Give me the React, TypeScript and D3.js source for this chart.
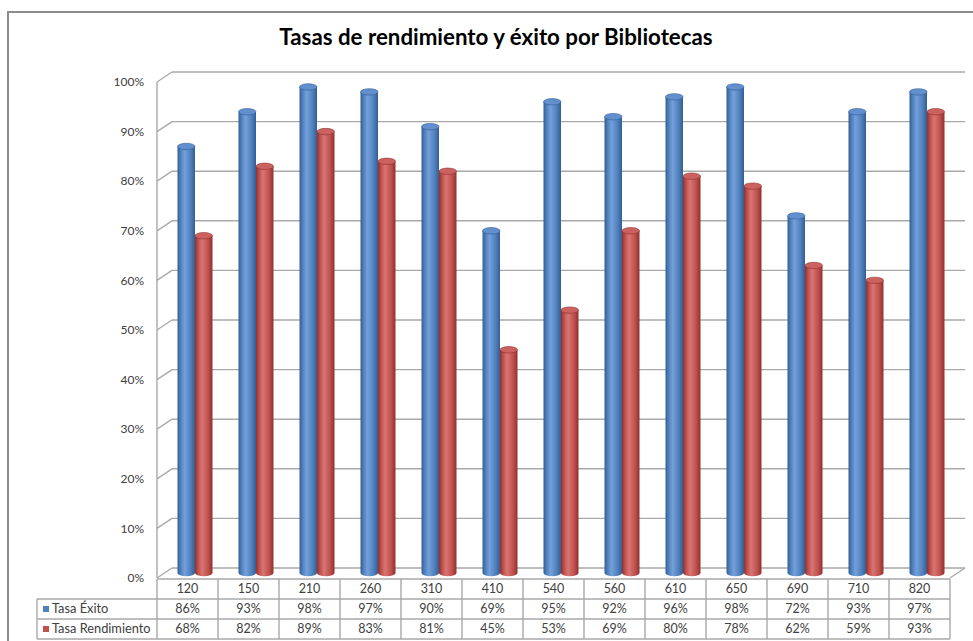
import React from "react";
import * as d3 from "d3";

const categories = ["120","150","210","260","310","410","540","560","610","650","690","710","820"];
const tasaExito = [86,93,98,97,90,69,95,92,96,98,72,93,97];
const tasaRendimiento = [68,82,89,83,81,45,53,69,80,78,62,59,93];
const yTicks = [0,10,20,30,40,50,60,70,80,90,100];
const seriesNames = ["Tasa Éxito","Tasa Rendimiento"];

const W = 973, H = 641;
const FONT = "Lato, 'Open Sans', sans-serif";
const frontLeft = 157, frontRight = 950;
const frontBase = 578;
const DX = 15, DY = -10;
const plotH = 496;

export default function App() {
  const x = d3.scaleBand<string>().domain(categories).range([frontLeft, frontRight]);
  const yFront = d3.scaleLinear().domain([0, 100]).range([frontBase, frontBase - plotH]);
  const yMid = (v: number) => yFront(v) + DY / 2;
  const yBack = (v: number) => yFront(v) + DY;
  const barW = 17.5;
  const ry = 3.2;
  const colors = [
    { dark: "#345d92", mid: "#4f81bd", light: "#74a0da", top: "#6290cf", id: "gb" },
    { dark: "#8e312e", mid: "#c0504d", light: "#d87673", top: "#cb625f", id: "gr" },
  ];
  const series = [tasaExito, tasaRendimiento];
  const textColor = "#404040";
  const grid = "#a9a9a9";
  const rowY = [579, 599, 619, 639];

  return (
    <svg width={W} height={H} style={{ display: "block", position: "absolute", left: 0, top: 0 }}>
      <defs>
        {colors.map((c) => (
          <linearGradient key={c.id} id={c.id} x1="0" x2="1" y1="0" y2="0">
            <stop offset="0" stopColor={c.dark} />
            <stop offset="0.18" stopColor={c.mid} />
            <stop offset="0.4" stopColor={c.light} />
            <stop offset="0.75" stopColor={c.mid} />
            <stop offset="1" stopColor={c.dark} />
          </linearGradient>
        ))}
      </defs>
      <rect x={0} y={0} width={W} height={H} fill="#fff" />
      {/* outer frame */}
      <path d={`M8,${H + 2} L8,12 L${W + 2},12`} fill="none" stroke="#8c8c8c" strokeWidth={2} />
      <text x={496} y={45} textAnchor="middle" fontFamily={FONT} fontWeight="bold" fontSize={22.3} fill="#000">
        Tasas de rendimiento y éxito por Bibliotecas
      </text>
      {/* back wall gridlines and side wall diagonals */}
      {yTicks.map((t) => (
        <g key={t}>
          <line x1={frontLeft + DX} x2={frontRight + DX} y1={yBack(t)} y2={yBack(t)} stroke={grid} strokeWidth={1.4} />
          <line x1={frontLeft} x2={frontLeft + DX} y1={yFront(t)} y2={yBack(t)} stroke={grid} strokeWidth={1.4} />
          <text x={144} y={yFront(t)} dy="0.35em" textAnchor="end" fontFamily={FONT} fontSize={12} fill={textColor}>
            {t}%
          </text>
        </g>
      ))}
      <line x1={frontLeft} x2={frontLeft} y1={yFront(100)} y2={frontBase} stroke={grid} strokeWidth={1.4} />
      {/* floor */}
      <line x1={frontRight} x2={frontRight + DX} y1={frontBase} y2={frontBase + DY} stroke={grid} strokeWidth={1.4} />
      {/* cylinders */}
      {categories.map((c, i) => {
        const pairCenter = (x(c) as number) + x.bandwidth() / 2 + DX / 2;
        return (
          <g key={c}>
            {series.map((s, k) => {
              const cx = pairCenter + (k === 0 ? -barW / 2 : barW / 2);
              const yt = yMid(s[i]);
              const yb = yMid(0);
              const l = cx - barW / 2, r = cx + barW / 2;
              const col = colors[k];
              return (
                <g key={k}>
                  <path
                    d={`M${l},${yt} L${l},${yb} A${barW / 2},${ry} 0 0 0 ${r},${yb} L${r},${yt} Z`}
                    fill={`url(#${col.id})`}
                  />
                  <ellipse cx={cx} cy={yt} rx={barW / 2} ry={ry} fill={col.top} stroke={col.dark} strokeWidth={0.6} />
                </g>
              );
            })}
          </g>
        );
      })}
      {/* data table */}
      <line x1={frontLeft} x2={frontRight} y1={rowY[0]} y2={rowY[0]} stroke={grid} strokeWidth={1.4} />
      {rowY.slice(1).map((yy, i) => (
        <line key={i} x1={37} x2={frontRight} y1={yy} y2={yy} stroke={grid} strokeWidth={1.4} />
      ))}
      <line x1={37} x2={37} y1={rowY[1]} y2={rowY[3]} stroke={grid} strokeWidth={1.4} />
      {categories.map((c) => (
        <line key={c} x1={x(c) as number} x2={x(c) as number} y1={rowY[0]} y2={rowY[3]} stroke={grid} strokeWidth={1.4} />
      ))}
      <line x1={frontRight} x2={frontRight} y1={rowY[0]} y2={rowY[3]} stroke={grid} strokeWidth={1.4} />
      {categories.map((c, i) => {
        const cx = (x(c) as number) + x.bandwidth() / 2;
        return (
          <g key={c} fontFamily={FONT} fontSize={12.5} fill={textColor} textAnchor="middle">
            <text x={cx} y={(rowY[0] + rowY[1]) / 2} dy="0.35em">{c}</text>
            <text x={cx} y={(rowY[1] + rowY[2]) / 2} dy="0.35em">{tasaExito[i]}%</text>
            <text x={cx} y={(rowY[2] + rowY[3]) / 2} dy="0.35em">{tasaRendimiento[i]}%</text>
          </g>
        );
      })}
      {seriesNames.map((n, k) => {
        const cy = (rowY[k + 1] + rowY[k + 2]) / 2;
        return (
          <g key={n}>
            <rect x={43} y={cy - 3} width={6} height={6} fill={colors[k].mid} />
            <text x={52} y={cy} dy="0.35em" fontFamily={FONT} fontSize={12.8} fill={textColor}>{n}</text>
          </g>
        );
      })}
    </svg>
  );
}
